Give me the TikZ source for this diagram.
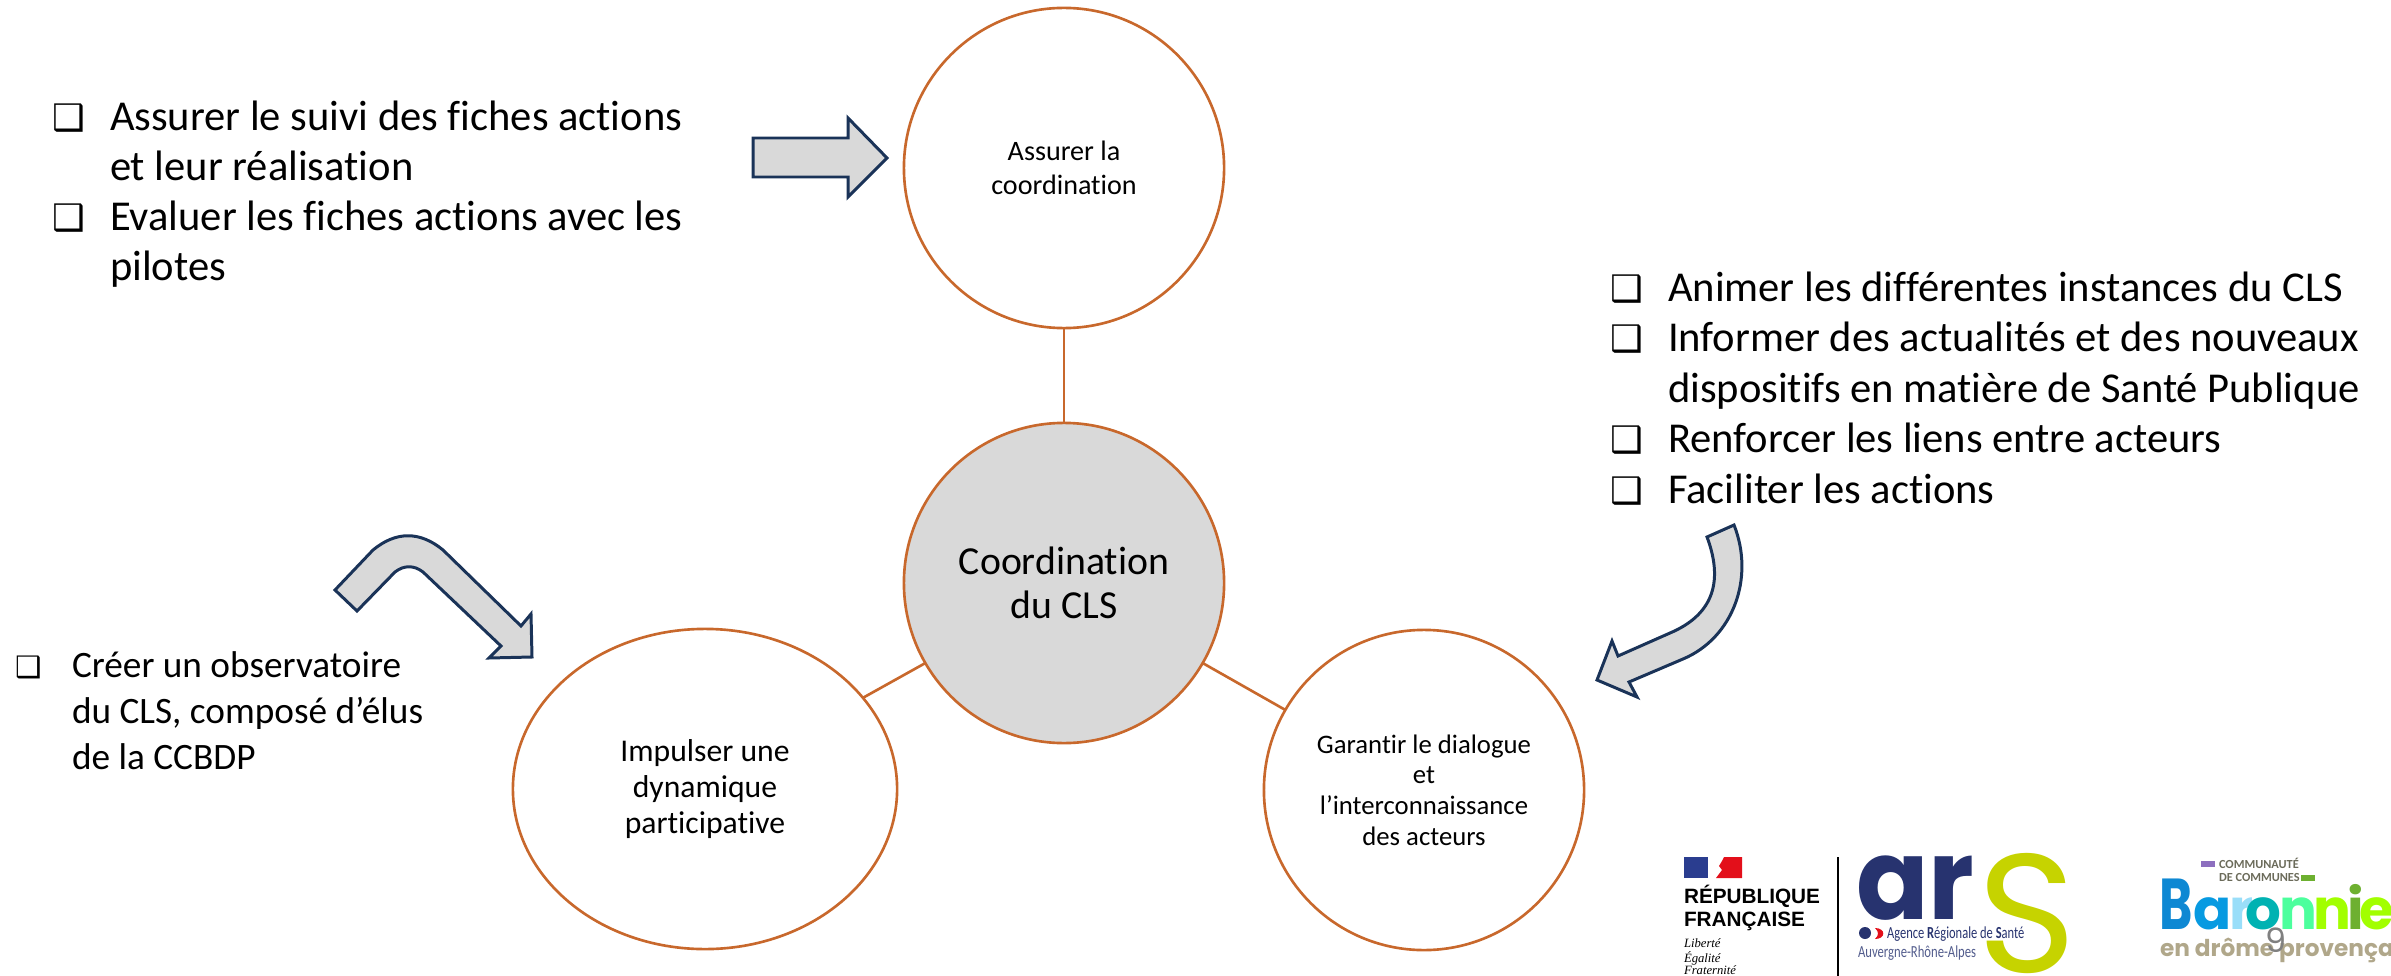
\documentclass[tikz,border=0pt]{standalone}
\usepackage{fontspec}
\setmainfont[Ligatures=NoCommon]{Carlito}
\newfontfamily\symbfont{DejaVu Sans}
\newfontfamily\logofont{Poppins}
\newfontfamily\repfont{Liberation Sans}
\newfontfamily\devisefont{Liberation Serif}
\usetikzlibrary{shapes.geometric}

\definecolor{rondorange}{HTML}{C8682C}
\definecolor{rondgris}{HTML}{D9D9D9}
\definecolor{flechebleu}{HTML}{1A3358}
\definecolor{arsbleu}{HTML}{27336F}
\definecolor{arsvert}{HTML}{C6D300}
\definecolor{mfbleu}{HTML}{2A3D8F}
\definecolor{mfrouge}{HTML}{E30F1A}
\definecolor{barbrun}{HTML}{B0A78A}
\definecolor{bargris}{HTML}{6B6B5A}
\definecolor{barviolet}{HTML}{8D6FBF}
\definecolor{barvert}{HTML}{6DB030}

\newcommand{\serre}[2]{\scalebox{#1}[1]{#2}}

\begin{document}
\begin{tikzpicture}[x=0.01cm, y=-0.01cm]
\tikzset{ inner sep=0pt, outer sep=0pt,
  rond/.style={draw=rondorange, line width=0.75pt, circle, minimum size=3.2cm, align=center},
  lien/.style={draw=rondorange, line width=0.75pt},
  fleche/.style={draw=flechebleu, fill=rondgris, line width=0.85pt, line join=miter},
  grandtxt/.style={anchor=base west, font=\fontsize{12.1}{15}\selectfont},
  petittxt/.style={anchor=base west, font=\fontsize{10.6}{13}\selectfont},
  grandbox/.style={anchor=base west, font=\fontsize{10.4}{13}\symbfont\bfseries},
  petitbox/.style={anchor=base west, font=\fontsize{8.4}{11}\symbfont\bfseries},
  lettre/.style={anchor=base west, font=\fontsize{16}{17}\logofont\bfseries},
  devise/.style={anchor=base west, font=\fontsize{3.6}{4}\devisefont\itshape},
  repub/.style={anchor=base west, font=\fontsize{5.9}{7}\repfont\bfseries},
  commune/.style={anchor=base west, text=bargris, font=\fontsize{3.5}{4}\selectfont\bfseries},
}

\useasboundingbox (0,0) rectangle (2391,976);

% cercles
\node [rond, fill=white, font=\fontsize{8}{9.8}\selectfont] (coord) at (1064,168) {Assurer la\\coordination};
\node [rond, fill=rondgris, font=\fontsize{11.3}{12.6}\selectfont] (cls) at (1064,583) {Coordination\\du CLS};
\node [rond, ellipse, minimum width=3.84cm, minimum height=3.2cm, font=\fontsize{9}{10.3}\selectfont] (impuls) at (705,789) {Impulser une\\dynamique\\participative};
\node [rond, font=\fontsize{7.6}{8.7}\selectfont] (dialog) at (1424,790) {Garantir le dialogue\\et\\l’interconnaissance\\des acteurs};

\draw [lien] (coord) -- (cls);
\draw [lien] (cls.210) -- (impuls.30);
\draw [lien] (cls.330) -- (dialog.150);

% liste du haut
\node [grandbox] (boxa) at (52,130) {❑};
\node [grandtxt] (suivia) at (110,130) {Assurer le suivi des fiches actions};
\node [grandtxt] (suivib) at (110,181) {et leur réalisation};
\node [grandbox] (boxb) at (52,231) {❑};
\node [grandtxt] (evala) at (110,231) {Evaluer les fiches actions avec les};
\node [grandtxt] (evalb) at (110,281) {pilotes};

% liste de droite
\node [grandbox] (boxc) at (1610,301) {❑};
\node [grandtxt] (animer) at (1668,301) {Animer les différentes instances du CLS};
\node [grandbox] (boxd) at (1610,351) {❑};
\node [grandtxt] (inform) at (1668,351) {Informer des actualités et des nouveaux};
\node [grandtxt] (dispo) at (1668,402) {dispositifs en matière de Santé Publique};
\node [grandbox] (boxe) at (1610,452) {❑};
\node [grandtxt] (liens) at (1668,452) {Renforcer les liens entre acteurs};
\node [grandbox] (boxf) at (1610,503) {❑};
\node [grandtxt] (facil) at (1668,503) {Faciliter les actions};

% liste de gauche
\node [petitbox] (boxg) at (15,677) {❑};
\node [petittxt] (creer) at (72,677) {Créer un observatoire};
\node [petittxt] (compo) at (72,723) {du CLS, composé d’élus};
\node [petittxt] (ccbdp) at (72,769) {de la CCBDP};

% fleches
\draw [fleche] (753,138) -- (848,138) -- (848,118) -- (887,158) -- (848,197) -- (848,177) -- (753,177) -- cycle;
\draw [fleche] (335,590) -- (357,611) -- (395,572) .. controls (404,565) and (414,565) .. (423,572) -- (501,646) -- (489,658) -- (532,657) -- (531,614) -- (521,626) -- (443,550) .. controls (420,531) and (396,531) .. (373,550) -- cycle;
\draw [fleche] (1734,525) -- (1707,537) .. controls (1725,585) and (1710,616) .. (1670,633) -- (1618,656) -- (1612,641) -- (1597,680) -- (1637,697) -- (1629,682) -- (1683,659) .. controls (1733,638) and (1755,578) .. (1734,525) -- cycle;

% logo republique
\fill [mfbleu] (1684,857) rectangle (1708,878);
\fill [mfrouge] (1724,857) -- (1742,857) -- (1742,878) -- (1716,878) -- (1722,870) -- (1719,866) -- (1722,861) -- cycle;
\node [repub] (repu) at (1684,903) {RÉPUBLIQUE};
\node [repub] (fran) at (1684,926) {FRANÇAISE};
\node [devise] (liber) at (1684,947) {Liberté};
\node [devise] (egal) at (1684,962) {Égalité};
\node [devise] (frat) at (1684,974) {Fraternité};
\draw [black, line width=0.5pt] (1838,857) -- (1838,976);

% logo ars
\node [anchor=base west, text=arsbleu, font=\fontsize{32}{32}\logofont\bfseries] (ar) at (1856,919) {\serre{0.95}{ar}};
\node [anchor=base west, text=arsvert, font=\fontsize{48}{48}\logofont] (lets) at (1977,972) {\serre{1.0}{S}};
\fill [arsbleu] (1865,933) circle (6);
\fill [mfrouge] (1875,928) .. controls (1886,928) and (1886,939) .. (1875,939) .. controls (1879,935) and (1879,932) .. (1875,928) -- cycle;
\node [anchor=base west, text=arsbleu, font=\fontsize{4.8}{5}\selectfont] (agence) at (1887,938) {\serre{0.74}{Agence \textbf{R}égionale de \textbf{S}anté}};
\node [anchor=base west, text=arsbleu!80, font=\fontsize{4.8}{5}\selectfont] (auvergne) at (1858,957) {\serre{0.75}{Auvergne-Rhône-Alpes}};

% logo baronnies
\fill [barviolet] (2201,861) rectangle (2215,867);
\node [commune] (comm) at (2219,868) {COMMUNAUTÉ};
\node [commune] (decomm) at (2219,881) {DE COMMUNES};
\fill [barvert] (2301,875) rectangle (2315,881);
\node [lettre, text=cyan!70!blue] (lb) at (2159,929) {\scalebox{0.9}[1.28]{B}};
\node [lettre, text=cyan!85!blue] (la) at (2193,929) {a};
\node [lettre, text=cyan!40] (lr) at (2229,929) {r};
\node [lettre, text=teal!60!cyan] (lo) at (2245,929) {o};
\node [lettre, text=green!55!cyan!70] (ln) at (2279,929) {n};
\node [lettre, text=lime!85!green] (lm) at (2313,929) {n};
\node [lettre, text=barvert] (li) at (2347,929) {i};
\node [lettre, text=lime!85!green] (le) at (2359,929) {e};
\node [anchor=base west, text=barbrun, font=\fontsize{6.6}{7}\logofont\bfseries] (endrome) at (2160,956) {en drôme provença};
\node [anchor=base west, text=black!50, font=\fontsize{9.5}{10}\logofont] (neuf) at (2265,952) {9};
\end{tikzpicture}
\end{document}
